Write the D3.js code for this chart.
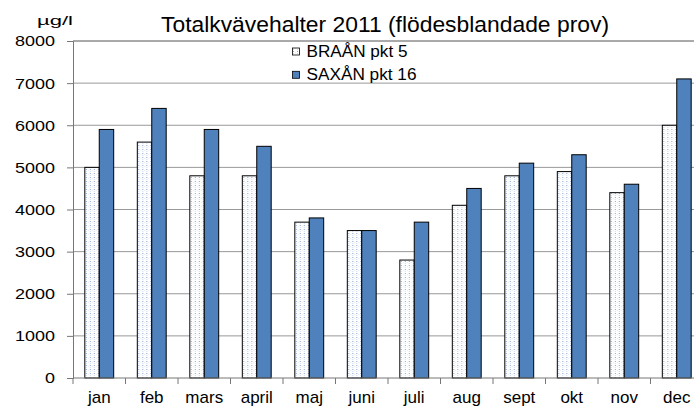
<!DOCTYPE html>
<html>
<head>
<meta charset="utf-8">
<script src="https://cdn.jsdelivr.net/npm/d3@7"></script>
<style>
  body { margin: 0; background: #fff; }
  text { font-family: "Liberation Sans", Arial, sans-serif; fill: #000; }
</style>
</head>
<body>
<div class="canvas"></div>
<script>
// chart data
const months = ['jan', 'feb', 'mars', 'april', 'maj', 'juni', 'juli', 'aug', 'sept', 'okt', 'nov', 'dec']
const braan = [5000, 5600, 4800, 4800, 3700, 3500, 2800, 4100, 4800, 4900, 4400, 6000]
const saxan = [5900, 6400, 5900, 5500, 3800, 3500, 3700, 4500, 5100, 5300, 4600, 7100]
const seriesNames = ['BRAÅN pkt 5', 'SAXÅN pkt 16']
const yTicks = [0, 1000, 2000, 3000, 4000, 5000, 6000, 7000, 8000]

// dimensions
const dimensions = {
  margin: { top: 41, right: -9, bottom: 28, left: 73 },
  chartWidth: 694,
  chartHeight: 406,
}
const graphWidth = dimensions.chartWidth - dimensions.margin.left - dimensions.margin.right
const graphHeight = dimensions.chartHeight - dimensions.margin.top - dimensions.margin.bottom

const svg = d3
  .select('.canvas')
  .append('svg')
  .attr('width', dimensions.chartWidth)
  .attr('height', dimensions.chartHeight)

// dotted pattern for BRAÅN
const defs = svg.append('defs')
const pat = defs
  .append('pattern')
  .attr('id', 'dots')
  .attr('patternUnits', 'userSpaceOnUse')
  .attr('width', 4)
  .attr('height', 4)
pat.append('rect').attr('width', 4).attr('height', 4).attr('fill', '#fff')
pat.append('rect').attr('x', 1).attr('y', 0).attr('width', 1).attr('height', 1).attr('fill', '#8aa3d0')
pat.append('rect').attr('x', 1).attr('y', 2).attr('width', 1).attr('height', 1).attr('fill', '#cdd9ee')
pat.append('rect').attr('x', 3).attr('y', 1).attr('width', 1).attr('height', 1).attr('fill', '#e3eaf5')

const graph = svg
  .append('g')
  .attr('transform', `translate(${dimensions.margin.left}, ${dimensions.margin.top})`)

// scales
const x = d3.scaleBand().domain(months).range([0, graphWidth]).paddingInner(0.45).paddingOuter(0.225)
const x1 = d3.scaleBand().domain(seriesNames).range([0, x.bandwidth()])
const y = d3.scaleLinear().domain([0, 8000]).range([graphHeight, 0])

// gridlines
graph
  .selectAll('.grid')
  .data(yTicks.filter((d) => d > 0))
  .enter()
  .append('line')
  .attr('x1', 0)
  .attr('x2', graphWidth)
  .attr('y1', (d) => y(d))
  .attr('y2', (d) => y(d))
  .attr('stroke', (d) => (d === 8000 ? '#555' : '#999'))
  .attr('stroke-width', 1)

// bars
const data = months.map((m, i) => ({ month: m, values: [braan[i], saxan[i]] }))
const groups = graph
  .selectAll('.grp')
  .data(data)
  .enter()
  .append('g')
  .attr('transform', (d) => `translate(${x(d.month)}, 0)`)

groups
  .selectAll('rect')
  .data((d) => d.values.map((v, i) => ({ name: seriesNames[i], value: v })))
  .enter()
  .append('rect')
  .attr('x', (d) => x1(d.name))
  .attr('y', (d) => y(d.value))
  .attr('width', x1.bandwidth())
  .attr('height', (d) => graphHeight - y(d.value))
  .attr('fill', (d) => (d.name === seriesNames[0] ? 'url(#dots)' : '#4f81bd'))
  .attr('stroke', '#000')
  .attr('stroke-width', 1)

// axes
const yAxis = d3.axisLeft(y).tickValues(yTicks).tickSize(6).tickPadding(12).tickFormat((d) => d)
const yAxisGroup = graph.append('g').call(yAxis)
yAxisGroup.select('.domain').attr('stroke', '#777')
yAxisGroup.selectAll('.tick line').attr('stroke', '#777')
yAxisGroup
  .selectAll('text')
  .attr('font-size', 15.5)
  .attr('textLength', (d) => String(d).length * 10)
  .attr('lengthAdjust', 'spacingAndGlyphs')
  .style('font-family', '"Liberation Sans", Arial, sans-serif')

const xAxisGroup = graph.append('g').attr('transform', `translate(0, ${graphHeight})`)
xAxisGroup
  .append('line')
  .attr('x1', 0)
  .attr('x2', graphWidth)
  .attr('stroke', '#777')
const bounds = d3.range(months.length + 1).map((i) => (i * graphWidth) / months.length)
xAxisGroup
  .selectAll('.xt')
  .data(bounds)
  .enter()
  .append('line')
  .attr('x1', (d) => d)
  .attr('x2', (d) => d)
  .attr('y1', 0)
  .attr('y2', 6)
  .attr('stroke', '#777')
xAxisGroup
  .selectAll('.xl')
  .data(months)
  .enter()
  .append('text')
  .attr('x', (d) => x(d) + x.bandwidth() / 2)
  .attr('y', 24.5)
  .attr('text-anchor', 'middle')
  .attr('font-size', 17)
  .text((d) => d)

// title and unit
svg
  .append('text')
  .attr('x', 385)
  .attr('y', 31.5)
  .attr('text-anchor', 'middle')
  .attr('font-size', 21.5)
  .attr('textLength', 448)
  .attr('lengthAdjust', 'spacingAndGlyphs')
  .text('Totalkvävehalter 2011 (flödesblandade prov)')
svg
  .append('text')
  .attr('x', 37)
  .attr('y', 25)
  .attr('font-size', 13.5)
  .attr('textLength', 36)
  .attr('lengthAdjust', 'spacingAndGlyphs')
  .text('µg/l')

// legend
const legend = svg.append('g').attr('transform', 'translate(292, 51)')
seriesNames.forEach((name, i) => {
  const item = legend.append('g').attr('transform', `translate(0, ${i * 23.3})`)
  item
    .append('rect')
    .attr('x', 0.5)
    .attr('y', -3)
    .attr('width', 7)
    .attr('height', 7)
    .attr('fill', i === 0 ? 'url(#dots)' : '#4f81bd')
    .attr('stroke', '#000')
    .attr('stroke-width', 0.8)
  item
    .append('text')
    .attr('x', 14.5)
    .attr('y', 5.7)
    .attr('font-size', 16.3)
    .attr('textLength', name.length === 11 ? 101 : 110)
    .attr('lengthAdjust', 'spacingAndGlyphs')
    .text(name)
})
</script>
</body>
</html>
